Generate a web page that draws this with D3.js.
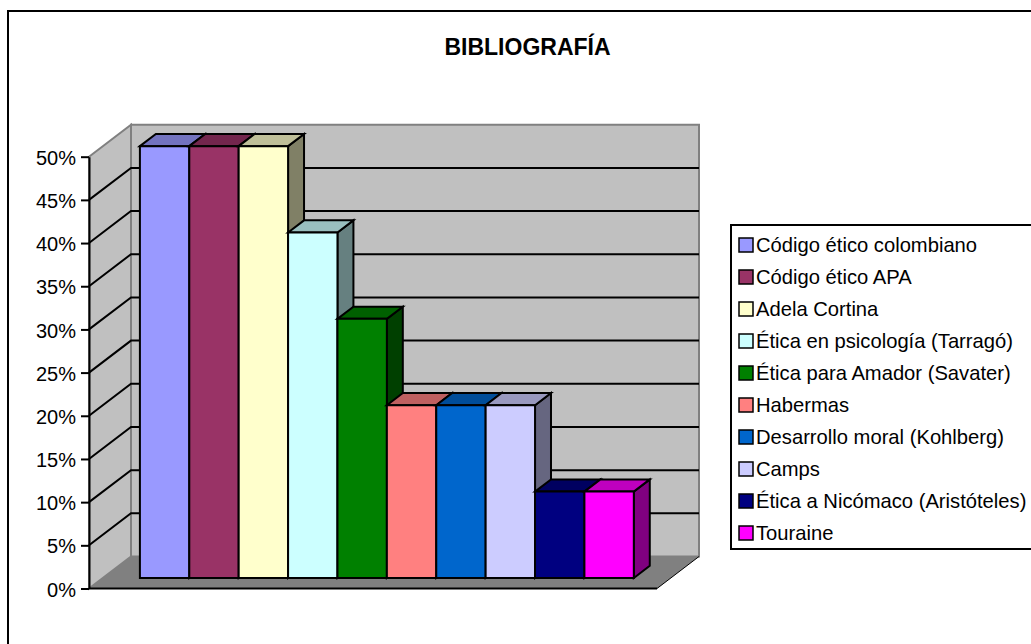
<!DOCTYPE html>
<html>
<head>
<meta charset="utf-8">
<script src="https://cdn.jsdelivr.net/npm/d3@7"></script>
<style>
  body { margin: 0; background: #fff; }
  svg { display: block; font-family: "Liberation Sans", Arial, sans-serif; }
</style>
</head>
<body>
<div id="chart"></div>
<script>
const title = "BIBLIOGRAFÍA";
const series = [
  "Código ético colombiano",
  "Código ético APA",
  "Adela Cortina",
  "Ética en psicología (Tarragó)",
  "Ética para Amador (Savater)",
  "Habermas",
  "Desarrollo moral (Kohlberg)",
  "Camps",
  "Ética a Nicómaco (Aristóteles)",
  "Touraine"
];
const values = [0.5, 0.5, 0.5, 0.4, 0.3, 0.2, 0.2, 0.2, 0.1, 0.1];
const colors = ["#9999FF", "#993366", "#FFFFCC", "#CCFFFF", "#008000",
                "#FF8080", "#0066CC", "#CCCCFF", "#000080", "#FF00FF"];
const tickValues = [0, 0.05, 0.1, 0.15, 0.2, 0.25, 0.3, 0.35, 0.4, 0.45, 0.5];

const width = 1031, height = 644;
const DX = 42, DY = -32;          // full depth of the 3d box
const zFront = 0.33, zBack = 0.71; // bar position inside the depth

const svg = d3.select("#chart").append("svg")
  .attr("width", width).attr("height", height);

// chart area border (runs off right/bottom)
svg.append("rect")
  .attr("x", 8).attr("y", 11).attr("width", 1100).attr("height", 700)
  .attr("fill", "none").attr("stroke", "#000").attr("stroke-width", 2);

const y = d3.scaleLinear().domain([0, 0.5]).range([588.5, 156.7]);
const x = d3.scaleBand().domain(series).range([89, 657])
  .paddingInner(0).paddingOuter(0.75);

const x0 = 89, x1 = 657;
const P = (px, py, z) => [px + z * DX, py + z * DY];
const poly = pts => "M" + pts.map(p => p.join(",")).join("L") + "Z";

// walls
const yTop = y(0.5), yBot = y(0);
svg.append("path") // left wall
  .attr("d", poly([P(x0, yTop, 0), P(x0, yTop, 1), P(x0, yBot, 1), P(x0, yBot, 0)]))
  .attr("fill", "#c0c0c0").attr("stroke", "#808080").attr("stroke-width", 2);
svg.append("path") // back wall
  .attr("d", poly([P(x0, yTop, 1), P(x1, yTop, 1), P(x1, yBot, 1), P(x0, yBot, 1)]))
  .attr("fill", "#c0c0c0").attr("stroke", "#808080").attr("stroke-width", 2);

// gridlines
const grid = tickValues.filter(v => v > 0 && v < 0.5);
svg.append("g").selectAll("path").data(grid).join("path")
  .attr("d", v => "M" + P(x0, y(v), 0) + "L" + P(x0, y(v), 1) + "L" + P(x1, y(v), 1))
  .attr("fill", "none").attr("stroke", "#000").attr("stroke-width", 2);

// floor
svg.append("path")
  .attr("d", poly([P(x0, yBot, 0), P(x1, yBot, 0), P(x1, yBot, 1), P(x0, yBot, 1)]))
  .attr("fill", "#808080");
svg.append("path")
  .attr("d", "M" + P(x1, yBot, 1) + "L" + P(x1, yBot, 0))
  .attr("stroke", "#000").attr("stroke-width", 1);
svg.append("path")
  .attr("d", "M" + P(x0, yBot, 0) + "L" + P(x1, yBot, 0))
  .attr("stroke", "#000").attr("stroke-width", 2);

// bars
const shade = (c, k) => {
  const r = d3.rgb(c);
  return d3.rgb(r.r * k, r.g * k, r.b * k).formatHex();
};
const bars = svg.append("g").selectAll("g").data(series).join("g");
bars.each(function (s, i) {
  const g = d3.select(this);
  const l = x(s), r = x(s) + x.bandwidth();
  const yt = y(values[i]), yb = y(0);
  const add = (d, fill) => g.append("path").attr("d", d).attr("fill", fill)
    .attr("stroke", "#000").attr("stroke-width", 2).attr("stroke-linejoin", "miter");
  add(poly([P(r, yt, zFront), P(r, yt, zBack), P(r, yb, zBack), P(r, yb, zFront)]), shade(colors[i], 0.5));
  add(poly([P(l, yt, zFront), P(l, yt, zBack), P(r, yt, zBack), P(r, yt, zFront)]), shade(colors[i], 0.75));
  add(poly([P(l, yt, zFront), P(r, yt, zFront), P(r, yb, zFront), P(l, yb, zFront)]), colors[i]);
});

// y axis
const axis = svg.append("g").attr("transform", `translate(${x0},0)`)
  .call(d3.axisLeft(y).tickValues(tickValues).tickFormat(d3.format(".0%"))
    .tickSize(8).tickSizeOuter(0).tickPadding(5));
axis.attr("font-family", null).attr("font-size", null);
axis.selectAll("path,line").attr("stroke", "#000").attr("stroke-width", 2);
axis.selectAll("text").attr("font-size", 20).attr("fill", "#000").attr("dy", "0.38em");

// title
svg.append("text").attr("x", 527.5).attr("y", 55)
  .attr("text-anchor", "middle").attr("font-weight", "bold").attr("font-size", 23)
  .text(title);

// legend
const lg = svg.append("g");
lg.append("rect").attr("x", 731).attr("y", 225).attr("width", 400).attr("height", 324)
  .attr("fill", "#fff").attr("stroke", "#000").attr("stroke-width", 2);
const items = lg.selectAll("g.item").data(series).join("g")
  .attr("class", "item")
  .attr("transform", (d, i) => `translate(0,${251.5 + i * 32})`);
items.append("rect").attr("x", 739).attr("y", -13.5).attr("width", 14).attr("height", 14)
  .attr("fill", (d, i) => colors[i]).attr("stroke", "#000").attr("stroke-width", 1.5);
items.append("text").attr("x", 756).attr("y", 0).attr("font-size", 20.2).text(d => d);
</script>
</body>
</html>
